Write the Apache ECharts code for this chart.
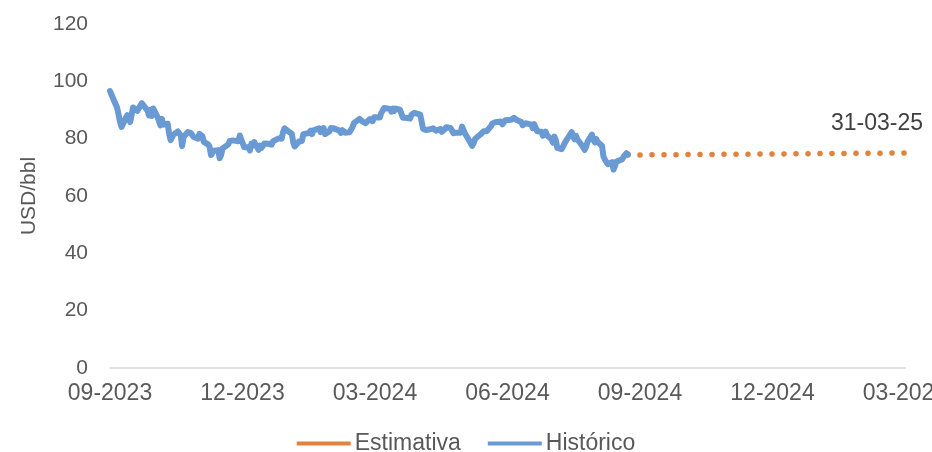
<!DOCTYPE html>
<html>
<head>
<meta charset="utf-8">
<script src="https://cdn.jsdelivr.net/npm/echarts@6/dist/echarts.min.js"></script>
<style>
html,body{margin:0;padding:0;background:#fff;}
#chart{width:932px;height:452px;}
</style>
</head>
<body>
<div id="chart"></div>
<script>
// ---- Data ----
const axisStart = '2023-09-27';
const axisEnd = '2025-03-31';
const xLabelCount = 7; // 09-2023 ... 03-2025
const yTicks = [0, 20, 40, 60, 80, 100, 120];
const seriesNames = ['Estimativa', 'Histórico'];

// Histórico: business days starting Wed 2023-09-27 (rows = weeks Mon–Fri)
const histStart = '2023-09-27';
const histValues = [
  96.6, 95.4, 95.3,
  90.7, 90.9, 85.8, 84.1, 84.6,
  88.2, 87.7, 85.8, 86.0, 90.9,
  89.7, 89.9, 91.5, 92.4, 92.2,
  89.8, 88.1, 90.1, 87.9, 90.5,
  87.5, 87.4, 84.6, 86.9, 84.9,
  85.2, 81.6, 79.5, 80.0, 81.4,
  82.5, 82.5, 81.2, 77.4, 80.6,
  82.3, 82.5, 82.0, 81.4, 80.6,
  80.0, 81.7, 82.1, 80.9, 78.9,
  78.0, 77.2, 74.3, 74.1, 75.8,
  76.0, 73.2, 74.3, 76.6, 76.6,
  78.0, 79.2, 79.7, 79.4, 79.1,
  79.1, 81.1, 79.7, 78.4, 77.0,
  77.0, 75.9, 78.3, 77.6, 78.8,
  76.1, 77.6, 76.8, 77.4, 78.3,
  78.2, 78.3, 77.9, 79.1, 78.6,
  80.1, 79.6, 80.0, 82.4, 83.6,
  82.4, 82.9, 81.7, 78.7, 77.3,
  79.0, 78.6, 79.2, 81.6, 82.2,
  82.0, 82.8, 81.6, 82.9, 83.5,
  83.6, 82.3, 83.0, 83.7, 81.6,
  82.5, 83.7, 83.7, 83.6, 83.6,
  82.8, 82.0, 83.0, 83.0, 82.1,
  82.2, 81.9, 84.0, 85.4, 85.3,
  86.9, 87.4, 86.0, 85.8, 85.4,
  86.8, 86.3, 86.1, 87.5, 87.5,
  87.4, 88.9, 89.4, 90.7, 91.2,
  90.4, 89.4, 90.5, 89.7, 90.5,
  90.1, 90.0, 87.3, 87.1, 87.3,
  87.0, 88.4, 88.0, 89.0, 89.5,
  88.4, 87.9, 83.4, 83.7, 83.0,
  83.3, 83.2, 83.6, 83.9, 82.8,
  83.4, 82.4, 82.8, 83.3, 84.0,
  83.7, 82.9, 81.9, 81.4, 82.1,
  82.1, 84.2, 83.6, 81.9, 81.6,
  78.4, 77.5, 78.4, 79.9, 79.6,
  81.6, 81.9, 82.6, 82.8, 82.6,
  84.3, 85.3, 85.1, 85.7, 85.2,
  86.0, 85.0, 85.3, 86.4, 86.4,
  86.6, 86.2, 87.3, 87.4, 86.5,
  85.8, 84.7, 85.1, 85.4, 85.0,
  84.9, 83.7, 85.1, 85.1, 82.6,
  82.4, 81.0, 81.7, 82.4, 81.1,
  79.8, 78.6, 80.7, 79.5, 76.8,
  76.3, 76.5, 78.3, 79.2, 79.7,
  82.3, 80.7, 79.8, 81.0, 79.7,
  77.7, 77.2, 76.1, 77.2, 79.0,
  81.4, 79.6, 78.7, 79.9, 78.8,
  77.5, 73.8, 72.7, 72.7, 71.1,
  71.8, 69.2, 70.6, 72.0, 71.6,
  72.8, 73.7, 73.7, 74.9, 74.5
];

// Estimativa
const estDates = ['2024-09-20', '2025-03-31'];
const estValues = [74.3, 75.0];
const estLabel = '31-03-25';

// ---- Build ----
const DAY = 86400000;
const toMs = s => Date.parse(s + 'T00:00:00Z');
function businessDays(start, n) {
  const out = [];
  let t = toMs(start);
  while (out.length < n) {
    const wd = new Date(t).getUTCDay();
    if (wd !== 0 && wd !== 6) out.push(t);
    t += DAY;
  }
  return out;
}
const histDates = businessDays(histStart, histValues.length);
const histData = histValues.map((v, i) => [histDates[i], v]);
const estData = estValues.map((v, i) => [toMs(estDates[i]), v]);

const xMin = toMs(axisStart), xMax = toMs(axisEnd);
const xLabelValues = [];
for (let k = 0; k < xLabelCount; k++) xLabelValues.push(xMin + (xMax - xMin) * k / (xLabelCount - 1));
const pad = n => (n < 10 ? '0' : '') + n;

const BLUE = '#6A9AD3', ORANGE = '#E3823C', TEXT = '#595959', FONT = 'Liberation Sans';

const chart = echarts.init(document.getElementById('chart'), null, { renderer: 'canvas' });
chart.setOption({
  animation: false,
  backgroundColor: '#fff',
  grid: { left: 110, right: 27, top: 24, bottom: 84, containLabel: false, outerBoundsMode: 'none' },
  legend: {
    data: seriesNames,
    left: 'center', top: 427,
    icon: 'rect', itemWidth: 54, itemHeight: 4, itemGap: 27,
    textStyle: { fontFamily: FONT, fontSize: 23, color: TEXT, padding: [0, 0, 0, -1] }
  },
  xAxis: {
    type: 'value', min: xMin, max: xMax,
    axisLine: { show: true, lineStyle: { color: '#D9D9D9', width: 1.5 } },
    axisTick: { show: false },
    splitLine: { show: false },
    axisLabel: {
      customValues: xLabelValues,
      margin: 14, fontFamily: FONT, fontSize: 23, color: TEXT,
      formatter: v => { const d = new Date(v); return pad(d.getUTCMonth() + 1) + '-' + d.getUTCFullYear(); }
    }
  },
  yAxis: {
    type: 'value', min: yTicks[0], max: yTicks[yTicks.length - 1], interval: yTicks[1] - yTicks[0],
    name: 'USD/bbl', nameLocation: 'middle', nameGap: 70, nameRotate: 90,
    nameTextStyle: { fontFamily: FONT, fontSize: 21, color: TEXT },
    axisLine: { show: false }, axisTick: { show: false }, splitLine: { show: false },
    axisLabel: { margin: 22, fontFamily: FONT, fontSize: 21, color: TEXT }
  },
  series: [
    {
      name: seriesNames[0], type: 'line', data: estData, showSymbol: false, symbol: 'none',
      lineStyle: { color: ORANGE, width: 5.5, type: [0.1, 11.9], cap: 'round' },
      itemStyle: { color: ORANGE }, z: 2,
      endLabel: {
        show: true, formatter: estLabel, distance: 0, offset: [-28, -29],
        align: 'center', verticalAlign: 'middle',
        fontFamily: FONT, fontSize: 23, color: '#404040'
      }
    },
    {
      name: seriesNames[1], type: 'line', data: histData, showSymbol: false, symbol: 'none',
      lineStyle: { color: BLUE, width: 6, join: 'round', cap: 'round' },
      itemStyle: { color: BLUE }, z: 3
    }
  ]
});
</script>
</body>
</html>
